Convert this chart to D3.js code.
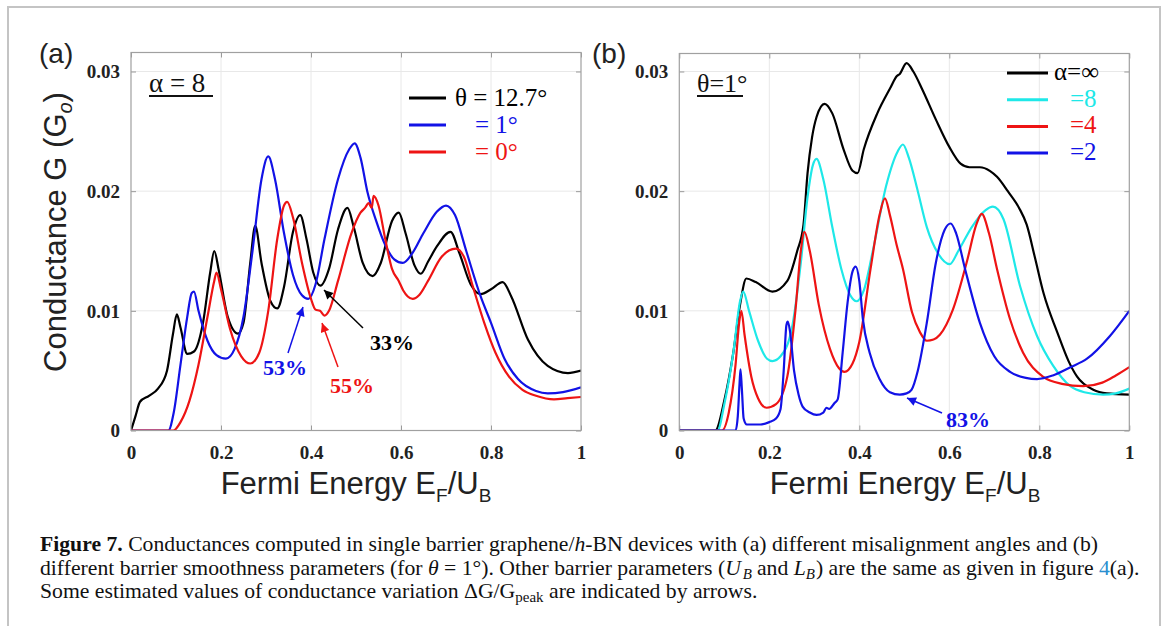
<!DOCTYPE html>
<html><head><meta charset="utf-8">
<script src="https://cdn.jsdelivr.net/npm/d3@7/dist/d3.min.js"></script>
<style>body{margin:0;background:#fff;} svg{display:block;}</style>
</head><body>
<svg id="chart" width="1167" height="626"></svg>
<script>
// ---------- data ----------
const xTicks = [0, 0.2, 0.4, 0.6, 0.8, 1];
const xTickLabels = ["0", "0.2", "0.4", "0.6", "0.8", "1"];
const yTicks = [0, 0.01, 0.02, 0.03];
const yTickLabels = ["0", "0.01", "0.02", "0.03"];

// panel (a), alpha = 8
const a_theta127 = [[0,0],[0.01,0.0012],[0.02,0.0024],[0.04,0.0029],[0.06,0.0035],[0.08,0.0050],[0.093,0.0080],[0.102,0.0097],[0.11,0.0086],[0.125,0.0064],[0.14,0.0066],[0.16,0.0090],[0.176,0.0132],[0.185,0.0150],[0.195,0.0134],[0.215,0.0095],[0.238,0.0081],[0.25,0.0090],[0.265,0.0140],[0.276,0.0171],[0.29,0.0140],[0.31,0.0108],[0.325,0.0102],[0.34,0.0120],[0.36,0.0166],[0.376,0.0180],[0.39,0.0160],[0.405,0.0132],[0.421,0.0121],[0.44,0.0135],[0.46,0.0168],[0.481,0.0186],[0.495,0.0170],[0.515,0.0140],[0.537,0.0129],[0.555,0.0140],[0.58,0.0175],[0.595,0.0182],[0.61,0.0165],[0.63,0.0138],[0.644,0.0131],[0.66,0.0141],[0.68,0.0154],[0.71,0.0166],[0.73,0.0148],[0.755,0.0122],[0.777,0.0114],[0.80,0.0118],[0.826,0.0124],[0.845,0.0112],[0.882,0.0076],[0.926,0.0054],[0.971,0.0048],[1,0.0050]];
const a_theta1 = [[0,0],[0.083,0],[0.095,0.0015],[0.11,0.0055],[0.125,0.0095],[0.135,0.0115],[0.14,0.0116],[0.15,0.0100],[0.17,0.0075],[0.19,0.0063],[0.211,0.0060],[0.23,0.0068],[0.25,0.0095],[0.27,0.0150],[0.29,0.0210],[0.305,0.0229],[0.32,0.0210],[0.34,0.0165],[0.36,0.0130],[0.38,0.0113],[0.394,0.0110],[0.41,0.0122],[0.43,0.0160],[0.46,0.0210],[0.485,0.0235],[0.497,0.0240],[0.51,0.0228],[0.525,0.0200],[0.545,0.0175],[0.565,0.0155],[0.585,0.0143],[0.604,0.0140],[0.625,0.0148],[0.65,0.0165],[0.68,0.0183],[0.70,0.0188],[0.72,0.0180],[0.745,0.0150],[0.777,0.0112],[0.80,0.0090],[0.83,0.0060],[0.86,0.0043],[0.90,0.0033],[0.926,0.0031],[0.96,0.0032],[1,0.0036]];
const a_theta0 = [[0,0],[0.094,0],[0.11,0.0007],[0.13,0.0025],[0.15,0.0055],[0.17,0.0095],[0.185,0.0125],[0.19,0.0132],[0.20,0.0118],[0.22,0.0085],[0.245,0.0062],[0.265,0.0056],[0.285,0.0065],[0.305,0.0100],[0.325,0.0160],[0.34,0.0188],[0.347,0.0191],[0.36,0.0178],[0.38,0.0140],[0.40,0.0110],[0.41,0.0101],[0.42,0.0100],[0.43,0.0096],[0.44,0.0100],[0.46,0.0125],[0.49,0.0165],[0.51,0.0182],[0.52,0.0186],[0.528,0.0190],[0.535,0.0186],[0.539,0.0196],[0.55,0.0188],[0.565,0.0160],[0.58,0.0135],[0.595,0.0125],[0.605,0.0117],[0.615,0.0112],[0.626,0.0110],[0.64,0.0113],[0.66,0.0125],[0.69,0.0145],[0.722,0.0152],[0.74,0.0145],[0.76,0.0120],[0.785,0.0090],[0.81,0.0065],[0.84,0.0045],[0.87,0.0034],[0.90,0.0029],[0.94,0.0026],[0.97,0.0027],[1,0.0028]];

// panel (b), theta = 1 deg
const b_alphaInf = [[0,0],[0.08,0],[0.10,0.0025],[0.12,0.0065],[0.135,0.0105],[0.149,0.0127],[0.17,0.0124],[0.207,0.0116],[0.24,0.0125],[0.262,0.0150],[0.276,0.0172],[0.285,0.0215],[0.295,0.0245],[0.305,0.0262],[0.323,0.0273],[0.34,0.0265],[0.365,0.0235],[0.385,0.0217],[0.396,0.0215],[0.41,0.0235],[0.44,0.0265],[0.47,0.0287],[0.483,0.0296],[0.49,0.0298],[0.505,0.0307],[0.52,0.0300],[0.54,0.0285],[0.57,0.0260],[0.60,0.0237],[0.625,0.0223],[0.645,0.0220],[0.668,0.0220],[0.69,0.0217],[0.706,0.0212],[0.73,0.0200],[0.755,0.0186],[0.772,0.0172],[0.79,0.0145],[0.81,0.0114],[0.84,0.0082],[0.865,0.0058],[0.884,0.0045],[0.92,0.0034],[0.95,0.0031],[1,0.0030]];
const b_alpha8 = [[0,0],[0.085,0],[0.10,0.0022],[0.12,0.0065],[0.135,0.0108],[0.142,0.0116],[0.155,0.0100],[0.175,0.0075],[0.195,0.0060],[0.207,0.0058],[0.225,0.0062],[0.25,0.0085],[0.27,0.0140],[0.285,0.0195],[0.297,0.0222],[0.305,0.0227],[0.32,0.0210],[0.34,0.0170],[0.36,0.0135],[0.38,0.0113],[0.394,0.0108],[0.41,0.0117],[0.43,0.0150],[0.46,0.0205],[0.485,0.0233],[0.497,0.0239],[0.51,0.0228],[0.53,0.0200],[0.55,0.0170],[0.575,0.0148],[0.601,0.0139],[0.62,0.0150],[0.65,0.0170],[0.68,0.0184],[0.697,0.0187],[0.72,0.0177],[0.757,0.0121],[0.795,0.0079],[0.831,0.0054],[0.869,0.0037],[0.90,0.0032],[0.942,0.0030],[0.97,0.0031],[1,0.0035]];
const b_alpha4 = [[0,0],[0.095,0],[0.11,0.0015],[0.125,0.0055],[0.133,0.0090],[0.138,0.0100],[0.145,0.0080],[0.16,0.0045],[0.175,0.0027],[0.194,0.0019],[0.215,0.0022],[0.24,0.0045],[0.258,0.0100],[0.27,0.0150],[0.278,0.0166],[0.29,0.0150],[0.31,0.0105],[0.335,0.0068],[0.355,0.0052],[0.367,0.0049],[0.385,0.0056],[0.40,0.0074],[0.425,0.0135],[0.445,0.0180],[0.457,0.0194],[0.468,0.0180],[0.483,0.0155],[0.497,0.0135],[0.517,0.0099],[0.535,0.0082],[0.55,0.0075],[0.565,0.0076],[0.579,0.0080],[0.608,0.0101],[0.639,0.0141],[0.66,0.0172],[0.672,0.0181],[0.688,0.0165],[0.706,0.0135],[0.735,0.0093],[0.764,0.0065],[0.808,0.0045],[0.85,0.0039],[0.898,0.0037],[0.94,0.0040],[0.97,0.0046],[1,0.0053]];
const b_alpha2 = [[0,0],[0.125,0],[0.13,0.0012],[0.134,0.0040],[0.136,0.0051],[0.139,0.0035],[0.143,0.0010],[0.15,0.0005],[0.18,0.0005],[0.20,0.0007],[0.215,0.0010],[0.225,0.0018],[0.232,0.0050],[0.238,0.0088],[0.241,0.0091],[0.246,0.0083],[0.255,0.0050],[0.265,0.0030],[0.274,0.0020],[0.29,0.0015],[0.305,0.0013],[0.32,0.0015],[0.327,0.0019],[0.333,0.0018],[0.345,0.0023],[0.352,0.0026],[0.363,0.0065],[0.374,0.0107],[0.385,0.0133],[0.392,0.0137],[0.40,0.0125],[0.408,0.0093],[0.423,0.0065],[0.445,0.0043],[0.468,0.0032],[0.49,0.0030],[0.505,0.0031],[0.516,0.0034],[0.53,0.0050],[0.55,0.0090],[0.57,0.0140],[0.59,0.0168],[0.603,0.0173],[0.615,0.0165],[0.635,0.0135],[0.668,0.0090],[0.70,0.0062],[0.735,0.0049],[0.77,0.0044],[0.795,0.0043],[0.83,0.0046],[0.87,0.0053],[0.906,0.0060],[0.957,0.0079],[1,0.0100]];

const legendA = ["θ = 12.7°", "= 1°", "= 0°"];
const legendB = ["α=∞", "=8", "=4", "=2"];

// ---------- drawing ----------
const svg = d3.select("#chart");
const C = {black:"#000000", blue:"#1212e6", red:"#ee1414", cyan:"#1ee8e8"};
svg.append("rect").attr("width",1167).attr("height",626).attr("fill","#fff");
// figure frame
svg.append("path").attr("d","M8,640 L8,7 L1160,7 L1160,640").attr("fill","none").attr("stroke","#c4c4c4").attr("stroke-width",2);

const defs = svg.append("defs");
function marker(id,color){
  defs.append("marker").attr("id",id).attr("viewBox","0 0 10 10").attr("refX",10).attr("refY",5)
    .attr("markerWidth",11).attr("markerHeight",9).attr("markerUnits","userSpaceOnUse").attr("orient","auto")
    .append("path").attr("d","M0,0 L10,5 L0,10 z").attr("fill",color);
}
marker("arrBlue",C.blue); marker("arrRed",C.red); marker("arrBlack",C.black);

const serif = "'Liberation Serif', serif";
const sans = "'Liberation Sans', Arial, sans-serif";

function panel(left, right, top, bottom, series, id){
  const x = d3.scaleLinear().domain([0,1]).range([left,right]);
  const y = d3.scaleLinear().domain([0,0.03]).range([bottom, 71.5]);
  const g = svg.append("g");
  // grid
  g.selectAll(".gx").data(xTicks.slice(1,-1)).join("line").attr("x1",d=>x(d)).attr("x2",d=>x(d)).attr("y1",top).attr("y2",bottom).attr("stroke","#e8e8e8").attr("stroke-width",1);
  g.selectAll(".gy").data(yTicks.slice(1)).join("line").attr("x1",left).attr("x2",right).attr("y1",d=>y(d)).attr("y2",d=>y(d)).attr("stroke","#e8e8e8").attr("stroke-width",1);
  const tickCol = "#9a9a9a";
  const styleLabels = sel => sel.attr("font-family",serif).attr("font-weight","bold").attr("font-size",19).attr("fill","#222");
  // bottom axis
  const xb = g.append("g").attr("transform",`translate(0,${bottom})`).call(d3.axisBottom(x).tickValues(xTicks).tickSize(-5).tickFormat((d,i)=>xTickLabels[i]));
  xb.select(".domain").remove(); xb.selectAll("line").attr("stroke",tickCol);
  styleLabels(xb.selectAll("text")).attr("y",28).attr("dy",null);
  // top axis
  const xt = g.append("g").attr("transform",`translate(0,${top})`).call(d3.axisTop(x).tickValues(xTicks).tickSize(-5).tickFormat(""));
  xt.select(".domain").remove(); xt.selectAll("line").attr("stroke",tickCol);
  // left axis
  const yl = g.append("g").attr("transform",`translate(${left},0)`).call(d3.axisLeft(y).tickValues(yTicks).tickSize(-5).tickFormat((d,i)=>yTickLabels[i]));
  yl.select(".domain").remove(); yl.selectAll("line").attr("stroke",tickCol);
  styleLabels(yl.selectAll("text")).attr("x",-11).attr("dy","0.34em");
  // right axis
  const yr = g.append("g").attr("transform",`translate(${right},0)`).call(d3.axisRight(y).tickValues(yTicks).tickSize(-5).tickFormat(""));
  yr.select(".domain").remove(); yr.selectAll("line").attr("stroke",tickCol);
  // clip & lines
  defs.append("clipPath").attr("id","clip"+id).append("rect").attr("x",left).attr("y",top).attr("width",right-left).attr("height",bottom-top);
  const line = d3.line().x(d=>x(d[0])).y(d=>y(d[1])).curve(d3.curveMonotoneX);
  const lg = g.append("g").attr("clip-path",`url(#clip${id})`);
  series.forEach(s=>{
    lg.append("path").datum(s.data).attr("d",line).attr("fill","none").attr("stroke",s.color).attr("stroke-width",2.2).attr("stroke-linejoin","round");
  });
  // box
  g.append("rect").attr("x",left).attr("y",top).attr("width",right-left).attr("height",bottom-top).attr("fill","none").attr("stroke","#a0a0a0").attr("stroke-width",1.2);
  return {x,y,g};
}

const pa = panel(131, 581, 52.5, 430.5, [
  {data:a_theta127, color:C.black},
  {data:a_theta1, color:C.blue},
  {data:a_theta0, color:C.red}], "a");
const pb = panel(679.3, 1129.3, 53.5, 430.5, [
  {data:b_alphaInf, color:C.black},
  {data:b_alpha8, color:C.cyan},
  {data:b_alpha4, color:C.red},
  {data:b_alpha2, color:C.blue}], "b");

// panel letters
svg.append("text").attr("x",39).attr("y",63).attr("font-family",sans).attr("font-size",28).attr("fill","#222").text("(a)");
svg.append("text").attr("x",592).attr("y",63).attr("font-family",sans).attr("font-size",28).attr("fill","#222").text("(b)");

// axis titles
const yt = svg.append("text").attr("transform","translate(66,232) rotate(-90)").attr("text-anchor","middle").attr("font-family",sans).attr("font-size",31).attr("fill","#222");
yt.append("tspan").text("Conductance G (G");
yt.append("tspan").attr("font-size",20).attr("font-style","italic").attr("dy",6).text("o");
yt.append("tspan").attr("dy",-6).text(")");
function xTitle(cx){
  const t = svg.append("text").attr("x",cx).attr("y",494).attr("text-anchor","middle").attr("font-family",sans).attr("font-size",31).attr("fill","#222");
  t.append("tspan").text("Fermi Energy E");
  t.append("tspan").attr("font-size",19).attr("dy",8).text("F");
  t.append("tspan").attr("dy",-8).text("/U");
  t.append("tspan").attr("font-size",19).attr("dy",8).text("B");
}
xTitle(356); xTitle(905);

// panel condition labels (underlined)
svg.append("text").attr("x",149).attr("y",92).attr("font-family",serif).attr("font-size",27).attr("fill","#111").text("α = 8");
svg.append("line").attr("x1",149).attr("x2",213).attr("y1",96).attr("y2",96).attr("stroke","#111").attr("stroke-width",1.8);
svg.append("text").attr("x",697).attr("y",92).attr("font-family",serif).attr("font-size",26).attr("fill","#111").text("θ=1°");
svg.append("line").attr("x1",697).attr("x2",743).attr("y1",96).attr("y2",96).attr("stroke","#111").attr("stroke-width",1.8);

// legends
const legAcol = [C.black, C.blue, C.red];
const legAx = [455, 475, 475];
legendA.forEach((t,i)=>{
  const yy = 98 + i*27;
  svg.append("line").attr("x1",409).attr("x2",446).attr("y1",yy).attr("y2",yy).attr("stroke",legAcol[i]).attr("stroke-width",3);
  svg.append("text").attr("x",legAx[i]).attr("y",yy+8).attr("font-family",serif).attr("font-size",25).attr("fill",legAcol[i]).text(t);
});
const legBcol = [C.black, C.cyan, C.red, C.blue];
const legBx = [1054, 1070, 1070, 1070];
legendB.forEach((t,i)=>{
  const yy = 73 + i*26.7;
  svg.append("line").attr("x1",1007).attr("x2",1048).attr("y1",yy).attr("y2",yy).attr("stroke",legBcol[i]).attr("stroke-width",3);
  svg.append("text").attr("x",legBx[i]).attr("y",yy+7).attr("font-family",serif).attr("font-size",25).attr("fill",legBcol[i]).text(t);
});

// annotations
function annot(txt, tx, ty, x1, y1, x2, y2, col, mk){
  svg.append("line").attr("x1",x1).attr("y1",y1).attr("x2",x2).attr("y2",y2).attr("stroke",col).attr("stroke-width",1.5).attr("marker-end",`url(#${mk})`);
  svg.append("text").attr("x",tx).attr("y",ty).attr("font-family",serif).attr("font-weight","bold").attr("font-size",22).attr("fill",col).text(txt);
}
annot("53%", 263, 375, 288, 353, 303, 307, C.blue, "arrBlue");
annot("55%", 330, 393, 338, 367, 322, 323, C.red, "arrRed");
annot("33%", 370, 350, 363, 328, 324, 290, C.black, "arrBlack");
annot("83%", 946, 427, 942, 413, 907, 398, C.blue, "arrBlue");

// caption
const cap = svg.append("text").attr("font-family",serif).attr("font-size",21.7).attr("fill","#111");
const l1 = cap.append("tspan").attr("x",40).attr("y",551);
l1.append("tspan").attr("font-weight","bold").text("Figure 7.");
l1.append("tspan").text(" Conductances computed in single barrier graphene/");
l1.append("tspan").attr("font-style","italic").text("h");
l1.append("tspan").text("-BN devices with (a) different misalignment angles and (b)");
const l2 = cap.append("tspan").attr("x",40).attr("y",575);
l2.append("tspan").text("different barrier smoothness parameters (for ");
l2.append("tspan").attr("font-style","italic").text("θ");
l2.append("tspan").text(" = 1°). Other barrier parameters (");
l2.append("tspan").attr("font-style","italic").text("U");
l2.append("tspan").attr("font-style","italic").attr("font-size",15).attr("dx",2).attr("dy",4).text("B");
l2.append("tspan").attr("dy",-4).attr("dx",5).text("and ");
l2.append("tspan").attr("font-style","italic").text("L");
l2.append("tspan").attr("font-style","italic").attr("font-size",15).attr("dy",4).text("B");
l2.append("tspan").attr("dy",-4).attr("dx",1).text(") are the same as given in figure ");
l2.append("tspan").attr("fill","#2a8fd0").text("4");
l2.append("tspan").text("(a).");
const l3 = cap.append("tspan").attr("x",40).attr("y",598);
l3.append("tspan").text("Some estimated values of conductance variation ΔG/G");
l3.append("tspan").attr("font-size",15).attr("dy",4).text("peak");
l3.append("tspan").attr("dy",-4).text(" are indicated by arrows.");
</script>
</body></html>
